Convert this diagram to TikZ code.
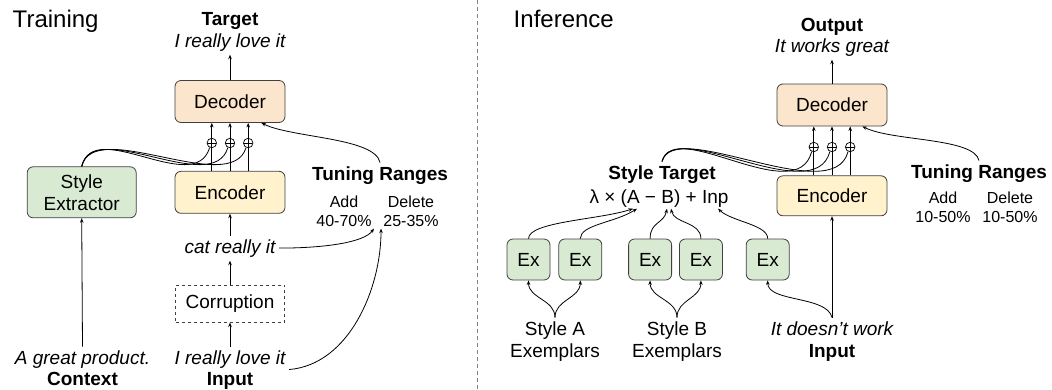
\documentclass[tikz,border=0pt]{standalone}
\usepackage{fontspec}
\setmainfont{Liberation Sans}
\usetikzlibrary{positioning,arrows.meta}
\definecolor{decfill}{HTML}{FCE5CD}
\definecolor{encfill}{HTML}{FFF2CC}
\definecolor{exfill}{HTML}{D9EAD3}
\begin{document}
\begin{tikzpicture}[
  x=1pt, y=-1pt,
  block/.style={rectangle, rounded corners=6pt, draw=black!75, minimum width=110pt, minimum height=42pt, align=center},
  exbox/.style={block, fill=exfill, minimum width=43pt, minimum height=41pt},
  plus/.style={circle, draw, fill=white, line width=0.7pt, minimum size=9.5pt, inner sep=0pt,
    path picture={\draw[line width=0.7pt] (path picture bounding box.west) -- (path picture bounding box.east);}},
  head/.style={anchor=base, font=\fontsize{19}{22}\selectfont\bfseries},
  ital/.style={anchor=base, font=\fontsize{19}{22}\selectfont\itshape},
  small/.style={anchor=base, font=\fontsize{16}{19}\selectfont, inner sep=2pt, align=center},
  title/.style={anchor=base west, font=\fontsize{24}{28}\selectfont},
  font=\fontsize{19}{22}\selectfont,
  line width=0.8pt,
  >={Stealth[length=4.5pt, width=3.5pt]}
]
\useasboundingbox (0,0) rectangle (1052,389);

% Training
\node[title] (ttrain) at (9,27) {Training};
\node[block, fill=decfill] (dec) at (230,101.5) {Decoder};
\node[block, fill=encfill, below=48pt of dec] (enc) {Encoder};
\node[block, fill=exfill, left=38pt of enc, minimum width=109pt, minimum height=51pt] (se) {Style\\Extractor};
\node[block, dashed, sharp corners, fill=white, below=71pt of enc, minimum width=109pt, minimum height=37pt] (corr) {Corruption};

\node[head] (tgt) at (230,25) {Target};
\node[ital] (tgttxt) at (230,47) {I really love it};
\node[ital] (cat) at (230,253) {cat really it};
\node[ital] (inptxt) at (230,364) {I really love it};
\node[head] (inp) at (230,385) {Input};
\node[ital] (ctxtxt) at (82.5,364) {A great product.};
\node[head] (ctx) at (82.5,385) {Context};

% Tuning ranges
\node[head] (tr) at (380,180) {Tuning Ranges};
\node[small] (add) at (344,226) {Add\\40-70\%};
\node[small] (del) at (411,226) {Delete\\25-35\%};

% Sums
\node[plus] (op2) at (230,143) {};
\node[plus, left=8pt of op2] (op1) {};
\node[plus, right=8pt of op2] (op3) {};

% Connections
\draw[->] (dec.north) -- (tgttxt.south);
\draw[->] (enc.north -| op1) -- (dec.south -| op1);
\draw[->] (enc.north -| op2) -- (dec.south -| op2);
\draw[->] (enc.north -| op3) -- (dec.south -| op3);
\draw[->] (cat.north) -- (enc.south);
\draw[->] (corr.north) -- (cat.south);
\draw[->] (inptxt.north) -- (corr.south);
\draw[->] (ctxtxt.north) -- (se.south);

% Style to sums
\draw (se.north) .. controls +(12,-50) and +(-15,50) .. (op1.-115);
\draw (se.north) .. controls +(12,-50) and +(-15,50) .. (op2.-115);
\draw (se.north) .. controls +(12,-50) and +(-15,50) .. (op3.-115);

% Range paths
\draw[->] (tr.north) .. controls +(-5,-25) and +(30,15) .. ([xshift=-24pt]dec.south east);
\draw[->] (cat.east) .. controls +(45,0) and +(-10,14) .. (add.south east);
\draw[->] (inptxt.-10) .. controls +(60,-5) and +(0,60) .. (del.south west);

% Separator
\draw[gray, dash pattern=on 4pt off 3pt] (477,0) -- (477,389);

% Inference
\node[title] (tinf) at (510,27) {Inference};
\node[block, fill=decfill] (dec2) at (832,105) {Decoder};
\node[block, fill=encfill, below=49pt of dec2, minimum height=40pt] (enc2) {Encoder};

\node[head] (out) at (832,31) {Output};
\node[ital] (outtxt) at (832,52) {It works great};
\node[ital] (inptxt2) at (832,335) {It doesn’t work};
\node[head] (inp2) at (832,357) {Input};

\node[head] (st) at (662,179) {Style Target};
\node[anchor=base] (fml) at (659,203) {λ × (A − B) + Inp};

\node[head] (tr2) at (979,178) {Tuning Ranges};
\node[small] (add2) at (943,222) {Add\\10-50\%};
\node[small] (del2) at (1010,222) {Delete\\10-50\%};

% Exemplars
\node[exbox] (ex1) at (528.5,259.5) {Ex};
\node[exbox, right=8pt of ex1] (ex2) {Ex};
\node[exbox, right=26pt of ex2] (ex3) {Ex};
\node[exbox, right=7pt of ex3] (ex4) {Ex};
\node[exbox, right=23pt of ex4] (ex5) {Ex};
\node[anchor=base, align=center] (sa) at (555,357) {Style A\\Exemplars};
\node[anchor=base, align=center] (sb) at (677,357) {Style B\\Exemplars};

% Sums
\node[plus] (op5) at (832,147) {};
\node[plus, left=8pt of op5] (op4) {};
\node[plus, right=8pt of op5] (op6) {};

% Connections
\draw[->] (dec2.north) -- (outtxt.south);
\draw[->] (enc2.north -| op4) -- (dec2.south -| op4);
\draw[->] (enc2.north -| op5) -- (dec2.south -| op5);
\draw[->] (enc2.north -| op6) -- (dec2.south -| op6);
\draw[->] (inptxt2.north) -- (enc2.south);
\draw[->] (inptxt2.north) .. controls +(-5,-22) and +(0,22) .. (ex5.south);

% Style target to sums
\draw (st.north) .. controls +(12,-45) and +(-15,58) .. (op4.-115);
\draw (st.north) .. controls +(12,-45) and +(-15,58) .. (op5.-115);
\draw (st.north) .. controls +(12,-45) and +(-15,58) .. (op6.-115);
\draw[->] (tr2.north) .. controls +(-5,-23) and +(30,15) .. ([xshift=-25pt]dec2.south east);

% Exemplars to formula
\draw[->] (ex1.north) .. controls +(0,-17) and +(-33,11) .. ([xshift=-26pt, yshift=2pt]fml.south);
\draw[->] (ex2.north) .. controls +(0,-14) and +(-22,14) .. ([xshift=-22pt, yshift=2pt]fml.south);
\draw[->] (ex3.north) .. controls +(0,-17) and +(-3,15) .. ([xshift=8pt, yshift=2pt]fml.south);
\draw[->] (ex4.north) .. controls +(0,-17) and +(3,15) .. ([xshift=12pt, yshift=2pt]fml.south);
\draw[->] (ex5.north) .. controls +(0,-14) and +(14,13) .. ([xshift=59pt, yshift=2pt]fml.south);

% Exemplar sources
\draw[->] (sa.north) .. controls +(0,-18) and +(0,18) .. (ex1.south);
\draw[->] (sa.north) .. controls +(0,-18) and +(0,18) .. (ex2.south);
\draw[->] (sb.north) .. controls +(0,-18) and +(0,18) .. (ex3.south);
\draw[->] (sb.north) .. controls +(0,-18) and +(0,18) .. (ex4.south);
\end{tikzpicture}
\end{document}
